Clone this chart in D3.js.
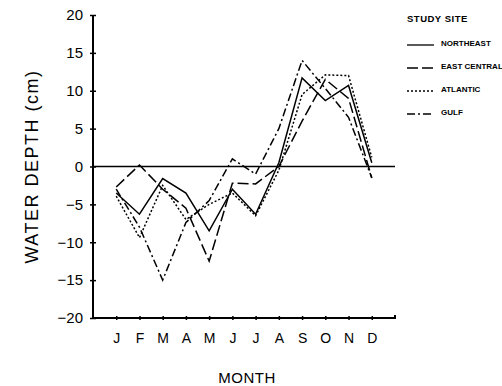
<!DOCTYPE html>
<html>
<head>
<meta charset="utf-8">
<script src="https://cdn.jsdelivr.net/npm/d3@7"></script>
<style>
	body { margin: 0; background: #fff; }
	text { font-family: "Liberation Sans", Arial, sans-serif; fill: #000; }
	.legend text { font-family: "Liberation Sans Narrow", "Liberation Sans", Arial, sans-serif; font-weight: bold; font-size: 8px; }
</style>
</head>
<body>
<div id="chart"></div>
<script>
// month labels and series (water depth, cm)
const months = ["J", "F", "M", "A", "M", "J", "J", "A", "S", "O", "N", "D"];
const northeast   = [-3.5, -6.3, -1.6, -3.5, -8.5, -3.0, -6.3, 0.5, 11.7, 8.7, 10.7, 0.5];
const eastCentral = [-2.7, 0.2, -3.0, -5.5, -12.5, -2.2, -2.3, 0.0, 6.0, 11.5, 9.0, -1.5];
const atlantic    = [-3.9, -9.4, -2.5, -7.0, -5.0, -3.5, -6.5, -0.5, 9.5, 12.1, 12.0, 1.2];
const gulf        = [-3.0, -8.0, -15.0, -7.4, -4.5, 1.0, -1.0, 5.0, 14.0, 10.3, 6.5, -1.5];
const yTicks = [-20, -15, -10, -5, 0, 5, 10, 15, 20];

const series = [
	{name: "NORTHEAST", values: northeast, dash: null},
	{name: "EAST CENTRAL", values: eastCentral, dash: "11,4"},
	{name: "ATLANTIC", values: atlantic, dash: "2,2"},
	{name: "GULF", values: gulf, dash: "8,3,2,3"}
];

const width = 502, height = 386;

const svg = d3.select("#chart").append("svg")
	.attr("width", width)
	.attr("height", height);

// scales: month index, axis runs one slot either side
const x = d3.scaleLinear().domain([-1, 12]).range([93, 395]);
const y = d3.scaleLinear().domain([-20, 20]).range([318, 15]);

// y axis
const yAxis = d3.axisLeft(y).tickValues(yTicks).tickSize(3).tickFormat(d => d < 0 ? "\u2212" + Math.abs(d) : d);
const gy = svg.append("g")
	.attr("transform", "translate(" + x(-1) + ",0)")
	.call(yAxis);
gy.select(".domain").attr("stroke-width", 2).attr("d", "M0," + y(20) + "V" + y(-20));
gy.selectAll(".tick line").attr("x2", 3).attr("x1", -3).attr("stroke-width", 1.5);
gy.selectAll(".tick text").attr("x", -10).style("font-size", "15px").style("font-family", "Liberation Sans, Arial, sans-serif");

// x axis
const xAxis = d3.axisBottom(x).tickValues(d3.range(12)).tickSize(3).tickFormat(i => months[i]);
const gx = svg.append("g")
	.attr("transform", "translate(0," + y(-20) + ")")
	.call(xAxis);
gx.select(".domain").attr("stroke-width", 2).attr("d", "M" + x(-1) + ",0H" + x(12) + "V-3");
gx.selectAll(".tick line").attr("y1", -2).attr("y2", 2).attr("stroke-width", 1.5);
gx.selectAll(".tick text").attr("y", 15).style("font-size", "14px")
	.style("font-family", "Liberation Sans, Arial, sans-serif");

// zero line
svg.append("line")
	.attr("x1", x(-1)).attr("x2", x(12))
	.attr("y1", y(0)).attr("y2", y(0))
	.attr("stroke", "#000").attr("stroke-width", 1.6);

// series lines
const line = d3.line()
	.x((d, i) => x(i))
	.y(d => y(d));

series.forEach(function (s) {
	svg.append("path")
		.datum(s.values)
		.attr("fill", "none")
		.attr("stroke", "#000")
		.attr("stroke-width", 1.5)
		.attr("stroke-dasharray", s.dash)
		.attr("d", line);
});

// axis titles
svg.append("text")
	.attr("transform", "translate(38," + y(0) + ") rotate(-90)")
	.attr("text-anchor", "middle")
	.style("font-size", "18px")
	.style("letter-spacing", "1.5px")
	.text("WATER DEPTH (cm)");

svg.append("text")
	.attr("x", 247).attr("y", 383)
	.attr("text-anchor", "middle")
	.style("font-size", "15px")
	.style("letter-spacing", "0.5px")
	.text("MONTH");

// legend
const legend = svg.append("g").attr("class", "legend");
legend.append("text")
	.attr("x", 407).attr("y", 22)
	.style("font-size", "9.5px")
	.style("letter-spacing", "0.5px")
	.text("STUDY SITE");

series.forEach(function (s, i) {
	const ly = 45 + i * 23;
	legend.append("line")
		.attr("x1", 407).attr("x2", 434)
		.attr("y1", ly).attr("y2", ly)
		.attr("stroke", "#000")
		.attr("stroke-width", 1.3)
		.attr("stroke-dasharray", s.dash);
	legend.append("text")
		.attr("x", 441).attr("y", ly + 1)
		.text(s.name);
});
</script>
</body>
</html>
